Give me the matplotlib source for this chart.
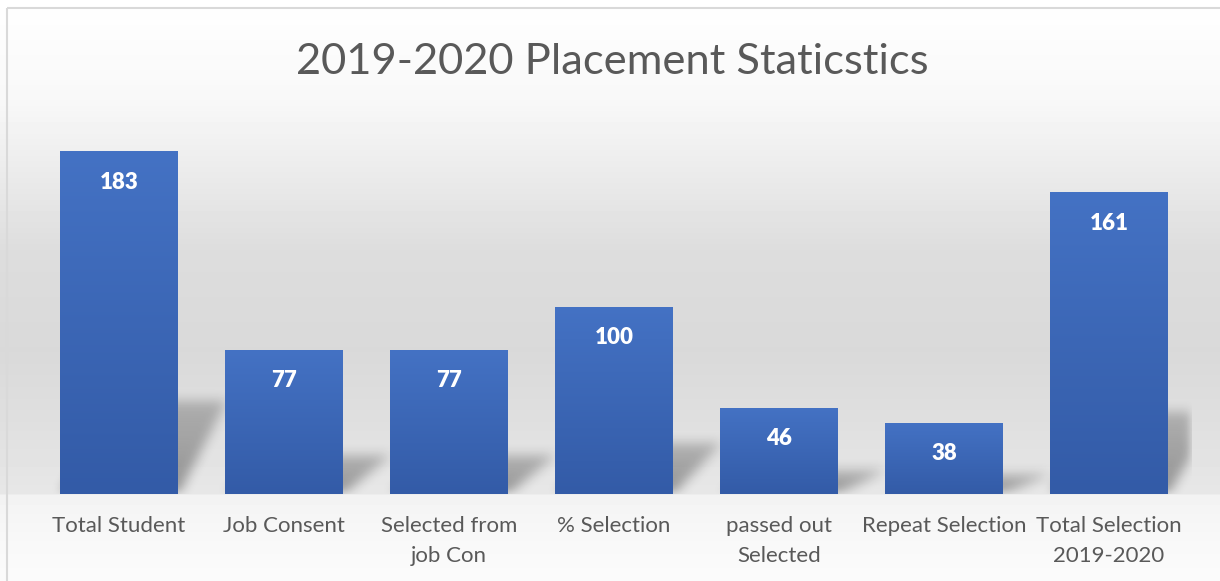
import matplotlib
matplotlib.use("Agg")
import matplotlib.pyplot as plt
import numpy as np
from matplotlib.patches import Rectangle

categories = ["Total Student", "Job Consent", "Selected from\njob Con", "% Selection",
              "passed out\nSelected", "Repeat Selection", "Total Selection\n2019-2020"]
values = [183, 77, 77, 100, 46, 38, 161]
title = "2019-2020 Placement Staticstics"

W, H = 1220, 581
fig = plt.figure(figsize=(W / 100, H / 100), dpi=100)

# background gradient (pixel rows -> grey level)
bg = fig.add_axes([0, 0, 1, 1])
rows = np.arange(H)
ky = [0, 10, 100, 150, 250, 350, 420, 493, 495, 540, 581]
kg = [255, 254, 248, 239, 221, 217, 223, 231, 243, 248, 251]
grey = np.interp(rows, ky, kg) / 255.0
img = np.repeat(grey[:, None], W, axis=1)
bg.imshow(img, cmap="gray", vmin=0, vmax=1, extent=[0, W, H, 0], aspect="auto", interpolation="bilinear")
bg.add_patch(Rectangle((7, 8), W, H, fill=False, edgecolor="#d9d9d9", linewidth=1.5))
bg.set_xlim(0, W)
bg.set_ylim(H, 0)
bg.axis("off")

# main axes: bar 0 centred at x=119, step 165, baseline y=494, 1.874 px per unit
left = 119 - 82.5
width = 165 * 7
bottom_px = 494
top_px = 130
pxu = 1.874
ax = fig.add_axes([left / W, (H - bottom_px) / H, width / W, (bottom_px - top_px) / H])
ymax = (bottom_px - top_px) / pxu
ax.set_xlim(-0.5, 6.5)
ax.set_ylim(0, ymax)
ax.patch.set_alpha(0)
for s in ax.spines.values():
    s.set_visible(False)
ax.set_yticks([])

x = np.arange(len(values))
bw = 118 / 165


def box_blur(a, r, axis):
    pad = [(0, 0), (0, 0)]
    pad[axis] = (r + 1, r)
    c = np.cumsum(np.pad(a, pad), axis=axis)
    n = a.shape[axis]
    hi = np.take(c, np.arange(2 * r + 1, 2 * r + 1 + n), axis=axis)
    lo = np.take(c, np.arange(0, n), axis=axis)
    return (hi - lo) / (2 * r + 1)


# soft perspective shadows, built on a pixel grid of the plot area
gw, gh = int(width), int(bottom_px - top_px)
mask = np.zeros((gh, gw))
yy = np.arange(gh)[:, None]
xx = np.arange(gw)[None, :]
for xi, v in zip(x, values):
    xl = (xi - bw / 2 + 0.5) * 165
    xr = xl + 118
    hs = v * pxu * 0.27
    t = np.clip(yy / hs, 0, None)
    shift = 48 * t
    inside = (yy <= hs) & (xx >= xl + shift) & (xx <= xr + shift)
    mask = np.maximum(mask, inside * (1 - 0.4 * np.clip(t, 0, 1)))
for _ in range(3):
    mask = box_blur(mask, 5, 0)
    mask = box_blur(mask, 5, 1)
shadow = np.zeros((gh, gw, 4))
shadow[..., 3] = np.clip(mask, 0, 1) * 0.36
ax.imshow(shadow, extent=[-0.5, 6.5, 0, ymax], origin="lower", aspect="auto", zorder=1,
          interpolation="bilinear")

bars = ax.bar(x, values, width=bw, color="none", zorder=2)
grad = np.linspace(0, 1, 256)[:, None]
cmap = matplotlib.colors.LinearSegmentedColormap.from_list("b", ["#335ba7", "#4472c4"])
for b in bars:
    bx, by = b.get_x(), b.get_y()
    bwid, bh = b.get_width(), b.get_height()
    im = ax.imshow(grad, cmap=cmap, extent=[bx, bx + bwid, by, by + bh], origin="lower",
                   aspect="auto", zorder=2)
    im.set_clip_path(b)
ax.set_xlim(-0.5, 6.5)
ax.set_ylim(0, ymax)

for xi, v in zip(x, values):
    ax.text(xi, v - 31 / pxu, str(v), ha="center", va="center", color="white",
            fontsize=16, fontweight="heavy", family=["Lato", "DejaVu Sans"], zorder=3)

ax.set_xticks(x)
ax.set_xticklabels(categories, fontsize=16, color="#595959", family=["Lato", "DejaVu Sans"],
                   linespacing=1.6, va="top")
ax.tick_params(axis="x", length=0, pad=16)

fig.text(612 / W, 1 - 62 / H, title, ha="center", va="center", fontsize=31.3, color="#595959",
         family=["Lato", "DejaVu Sans"])

fig.savefig("out.png", dpi=100)
